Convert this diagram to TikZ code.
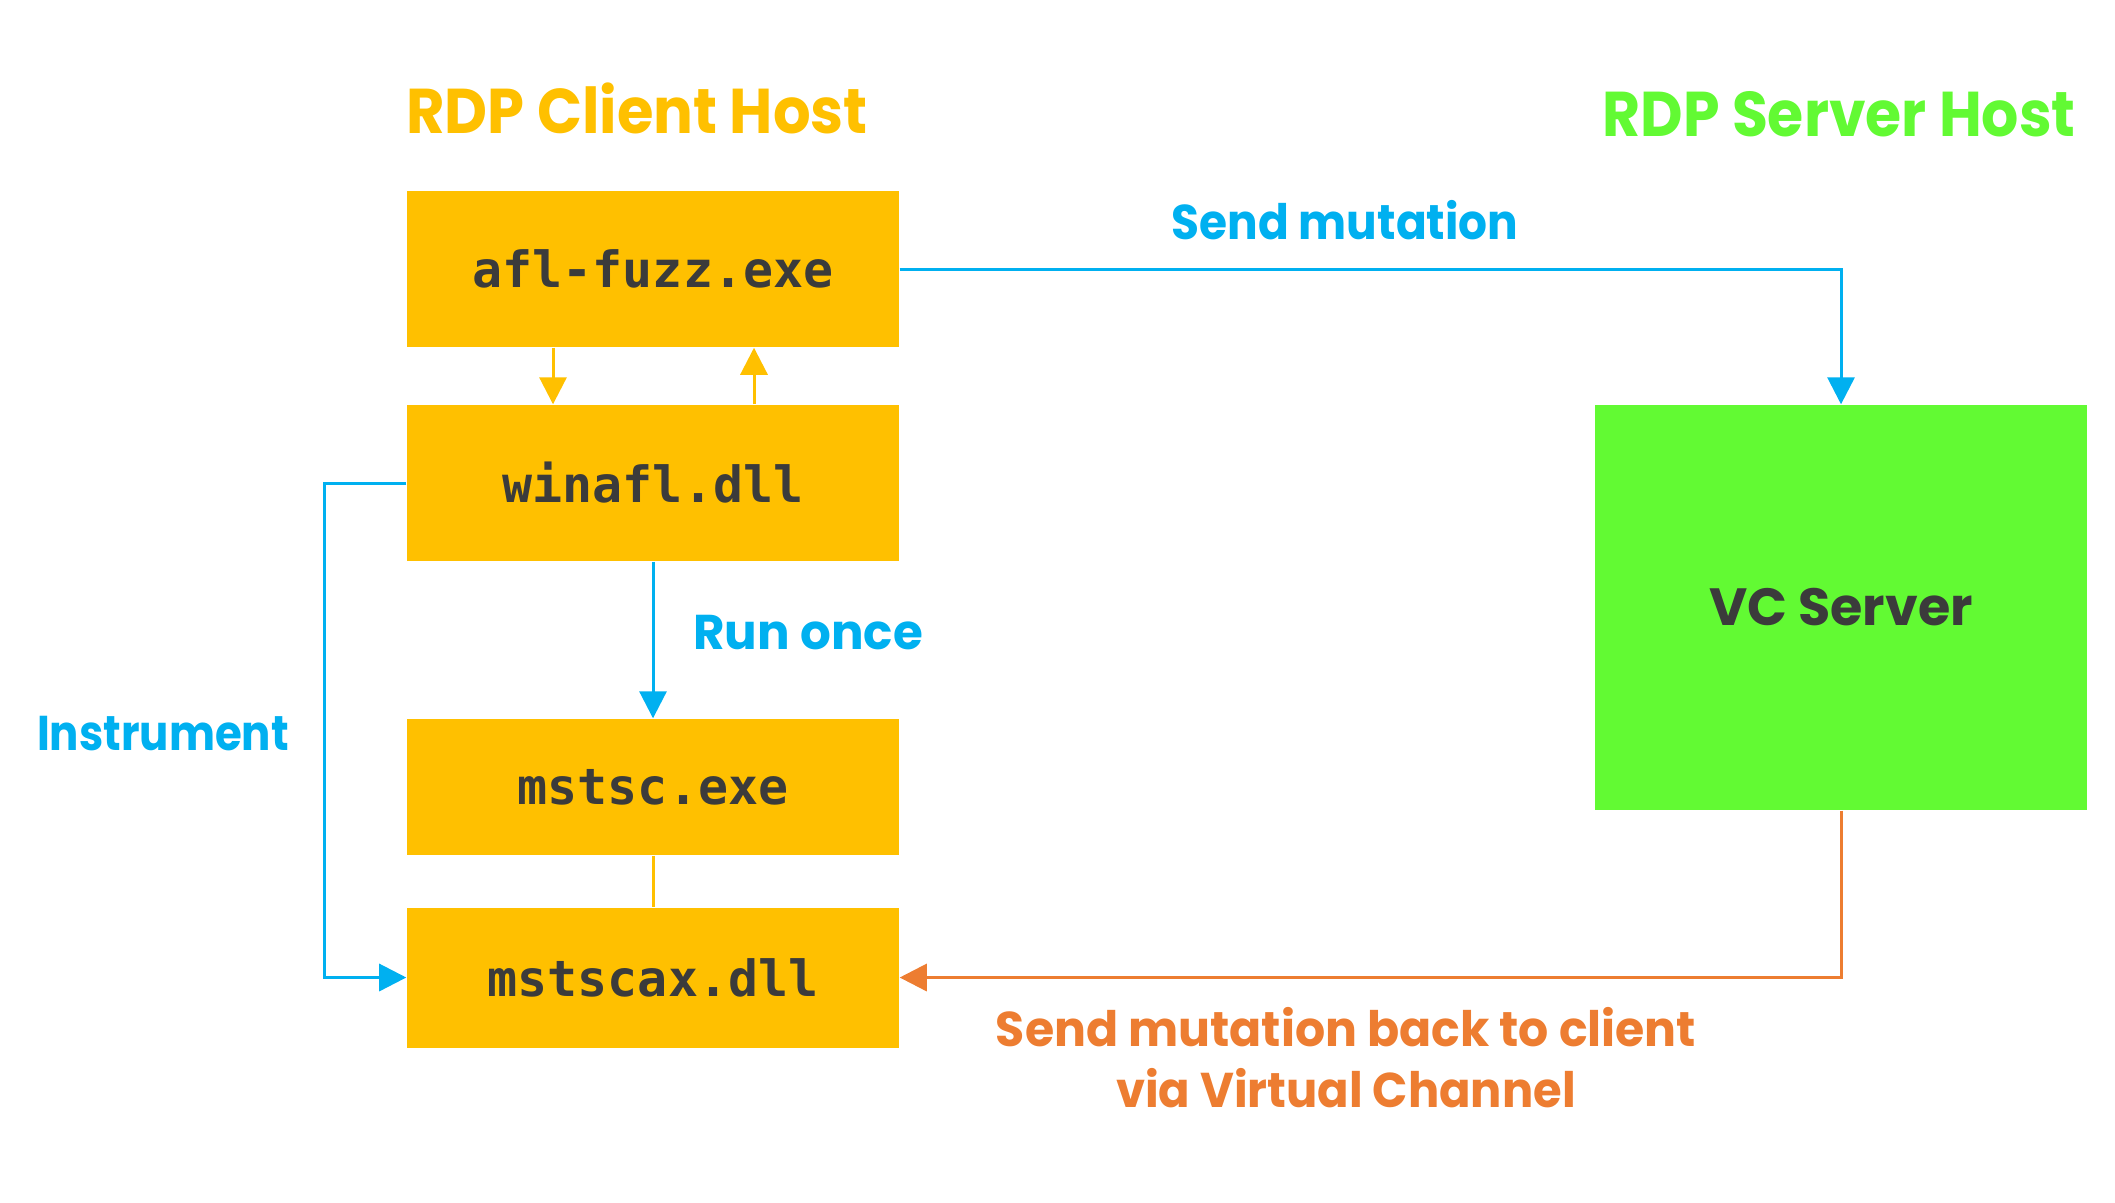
\documentclass[tikz,border=0pt]{standalone}
\usepackage{fontspec}
\setmainfont{Poppins}
\setmonofont{DejaVu Sans Mono}
\usetikzlibrary{arrows.meta}
\definecolor{clientgold}{RGB}{255,192,0}
\definecolor{servergreen}{RGB}{98,250,51}
\definecolor{flowblue}{RGB}{0,176,240}
\definecolor{backorange}{RGB}{237,125,49}
\definecolor{boxtext}{RGB}{59,59,59}
\tikzset{
  module/.style={fill=clientgold, text=boxtext, minimum width=49.2mm, font=\ttfamily\bfseries\fontsize{14.2pt}{16pt}\selectfont},
  vcbox/.style={fill=servergreen, text=boxtext, minimum width=49.2mm, minimum height=40.5mm, font=\bfseries\fontsize{14.9pt}{17pt}\selectfont},
  hosttitle/.style={anchor=base, font=\bfseries\fontsize{18pt}{21pt}\selectfont},
  flowlabel/.style={anchor=base, font=\bfseries\fontsize{13.9pt}{17.1pt}\selectfont},
  tip/.style={-{Triangle[length=7.7pt,width=7.7pt]}},
  goldline/.style={draw=clientgold, line width=0.85pt},
  blueline/.style={draw=flowblue, line width=0.85pt},
  orangeline/.style={draw=backorange, line width=0.85pt}
}
\begin{document}
\begin{tikzpicture}[x=0.1mm, y=-0.1mm]
\useasboundingbox (0,0) rectangle (2115,1202);

\node[hosttitle, text=clientgold] (clienthost) at (637,133) {\scalebox{0.935}[1]{RDP Client Host}};
\node[hosttitle, text=servergreen] (serverhost) at (1839,136) {\scalebox{0.925}[1]{RDP Server Host}};

\node[module, minimum height=15.6mm] (afl) at (653,269) {afl-fuzz.exe};
\node[module, minimum height=15.6mm] (winafl) at (653,483) {winafl.dll};
\node[module, minimum height=13.6mm] (mstsc) at (653,787) {mstsc.exe};
\node[module, minimum height=14mm] (mstscax) at (653,977.5) {mstscax.dll};
\node[vcbox] (vc) at (1841,607.5) {VC Server};

\draw[goldline, tip] ([xshift=-10mm]afl.south) -- ([xshift=-10mm]winafl.north);
\draw[goldline, tip] ([xshift=10.1mm]winafl.north) -- ([xshift=10.1mm]afl.south);
\draw[goldline] (mstsc.south) -- (mstscax.north);
\draw[blueline, tip] (winafl.south) -- (mstsc.north);
\draw[blueline, tip] (winafl.west) -- ++(-8.2mm,0) |- (mstscax.west);
\draw[blueline, tip] (afl.east) -| (vc.north);
\draw[orangeline, tip] (vc.south) |- (mstscax.east);

\node[flowlabel, text=flowblue] (sendlbl) at (1345,239) {\scalebox{0.93}[1]{Send mutation}};
\node[flowlabel, text=flowblue, anchor=base west] (runlbl) at (681,649) {\scalebox{0.99}[1]{Run once}};
\node[flowlabel, text=flowblue] (instrlbl) at (163,750) {\scalebox{0.89}[1]{Instrument}};
\node[flowlabel, text=backorange, align=center] (backlbl) at (1346,1107) {\scalebox{0.97}[1]{Send mutation back to client}\\\scalebox{0.95}[1]{via Virtual Channel}};
\end{tikzpicture}
\end{document}
